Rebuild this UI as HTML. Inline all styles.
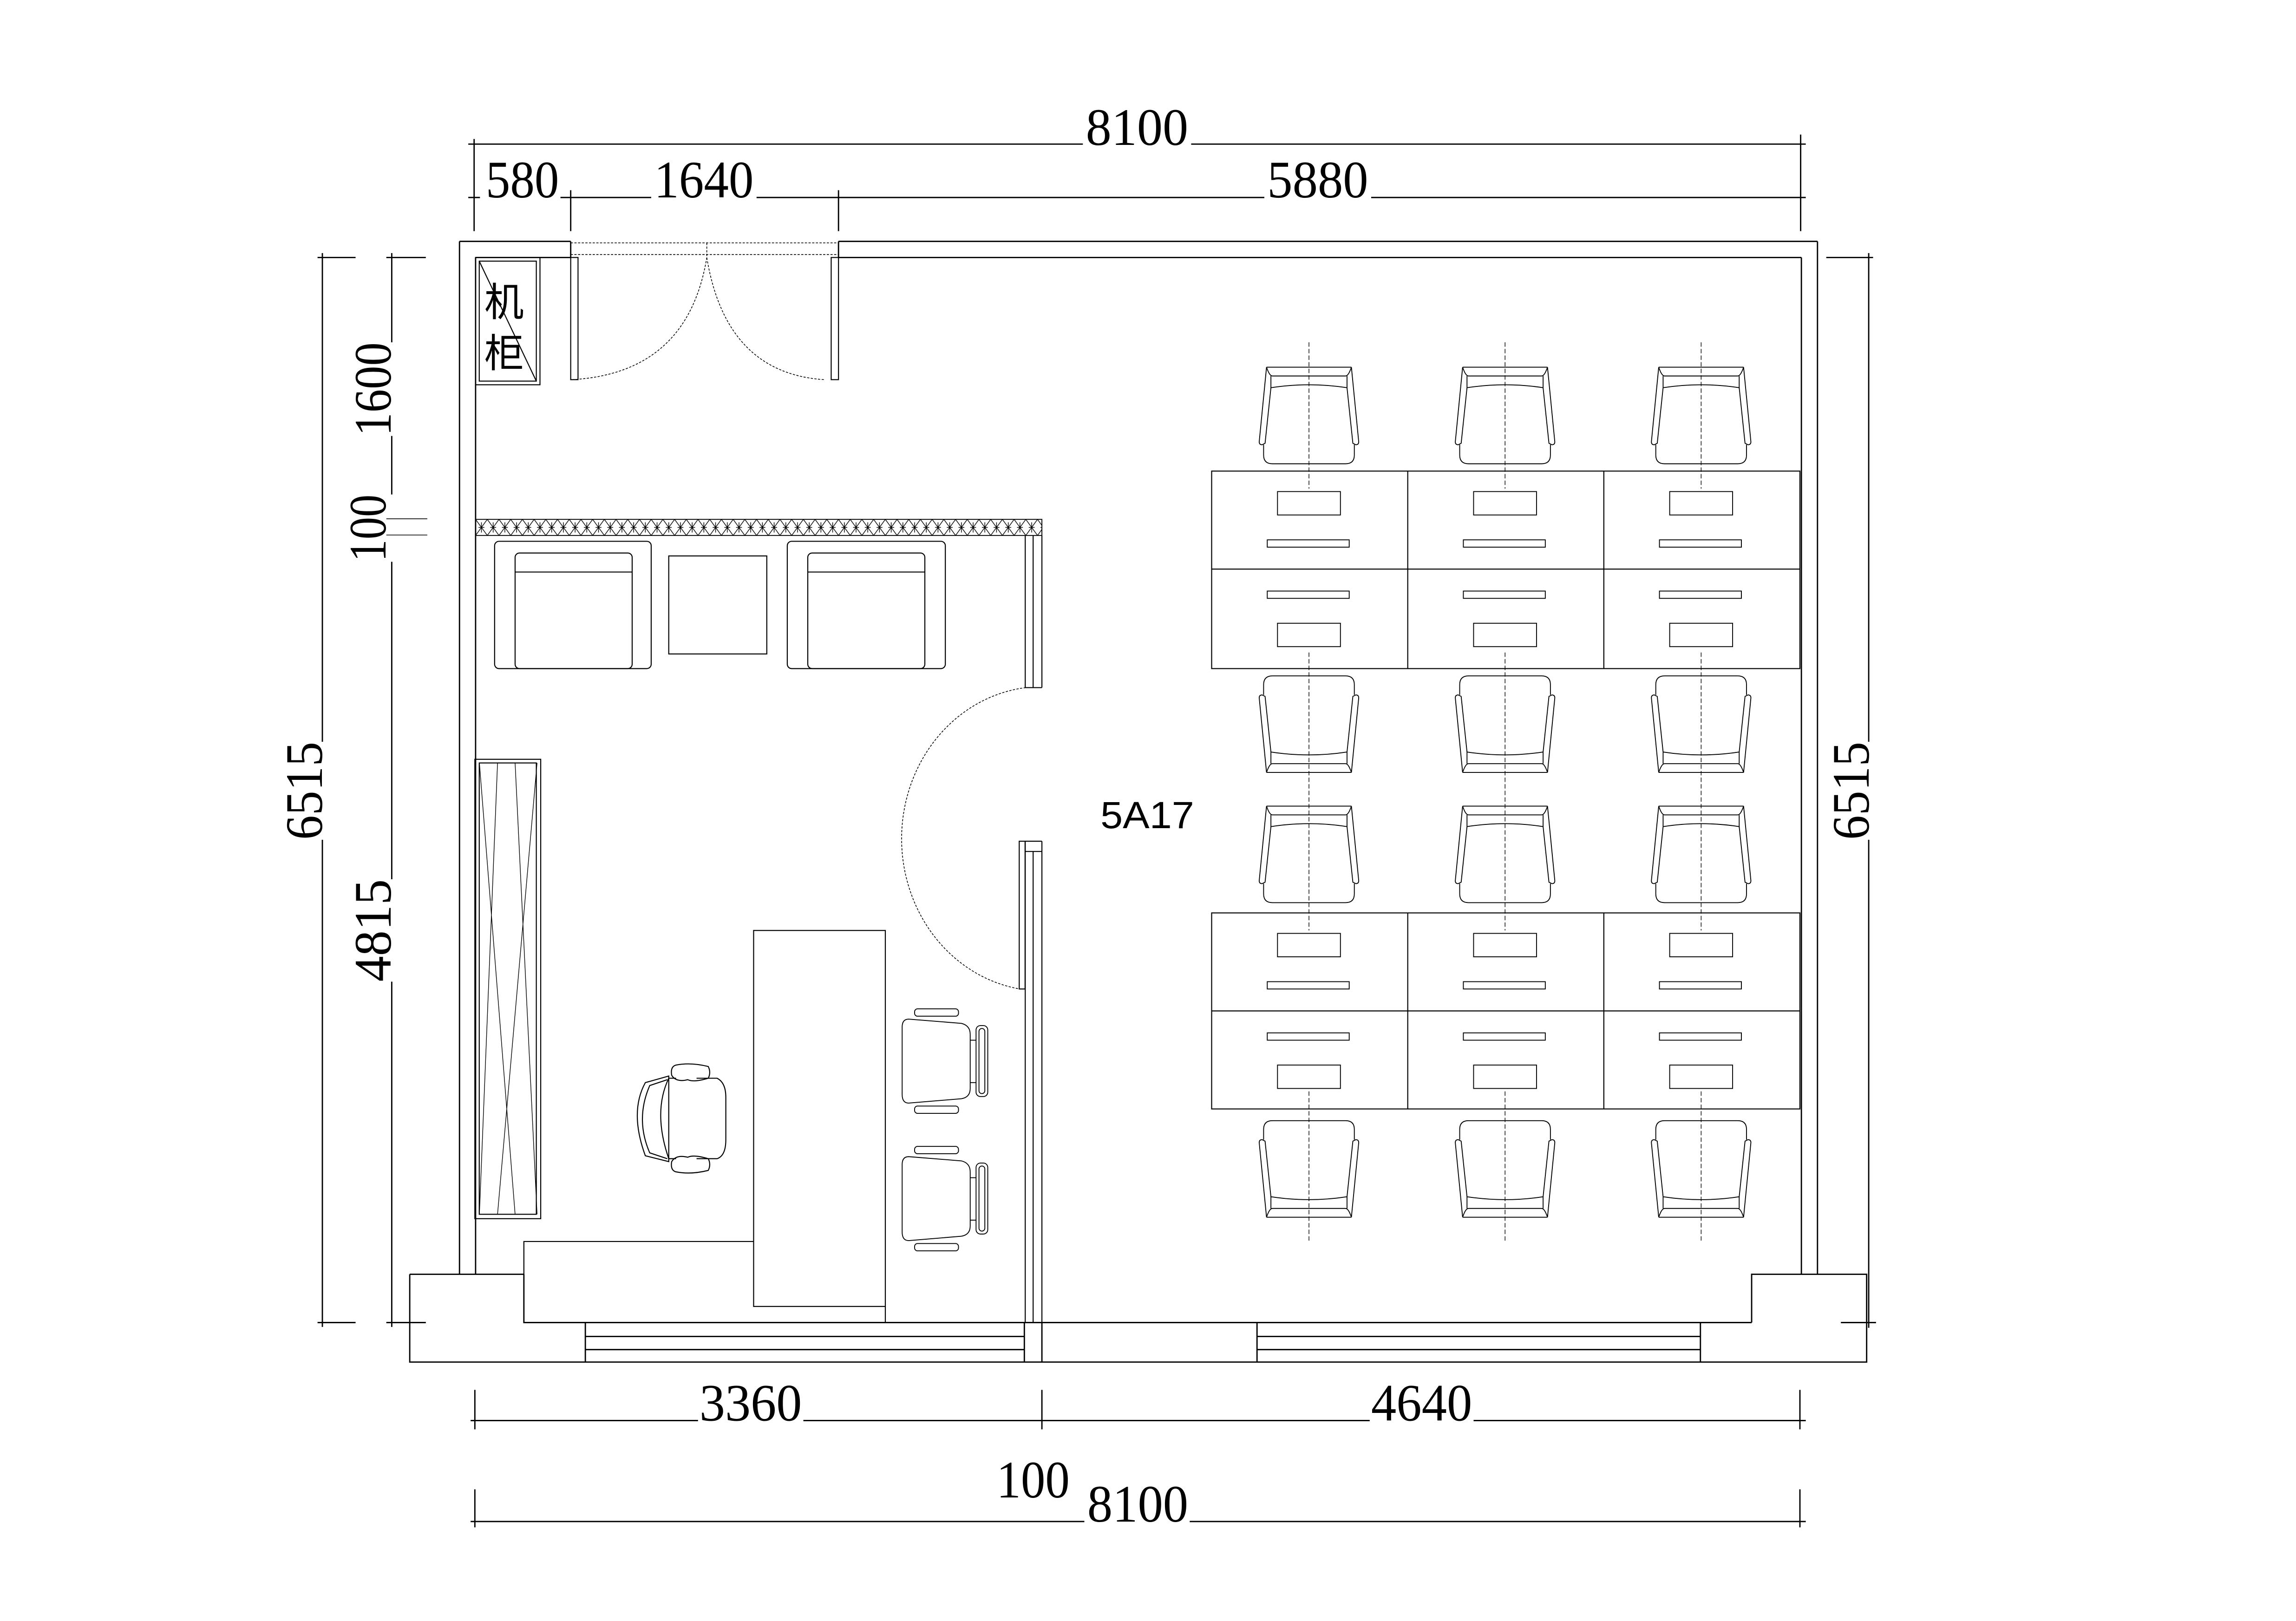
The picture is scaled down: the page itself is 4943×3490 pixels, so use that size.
<!DOCTYPE html>
<html><head><meta charset="utf-8"><style>
html,body{margin:0;padding:0;background:#fff;}
svg{display:block;}
text{font-family:"Liberation Serif","Noto Serif CJK SC",serif;fill:#000;}
text.sans{font-family:"Liberation Sans","Noto Sans CJK SC",sans-serif;}
</style></head><body>
<svg width="4943" height="3490" viewBox="0 0 1569 1108" preserveAspectRatio="none" xmlns="http://www.w3.org/2000/svg">
<defs>
<pattern id="hatch" width="8" height="11" patternUnits="userSpaceOnUse" x="325" y="355">
<path d="M0,0 L8,11 M8,0 L0,11 M4,2 V9 M2,5.5 H6" stroke="#000" stroke-width="0.45" fill="none"/>
</pattern>
<g id="chair" fill="none" stroke="#000" stroke-width="0.6">
<path d="M-29,0 H29 M-29,0 Q-27,6 -25,6 H25 Q27,6 29,0"/>
<path d="M-26,6 V14 Q0,10 26,14 V6"/>
<path d="M-29,0 L-34,51 Q-34,53 -32,53 L-30,52 L-26,14"/>
<path d="M29,0 L34,51 Q34,53 32,53 L30,52 L26,14"/>
<path d="M-31,53 V60 Q-31,66 -25,66 H25 Q31,66 31,60 V53"/>
</g>
<g id="vchair" fill="none" stroke="#000" stroke-width="0.6">
<rect x="625" y="689.6" width="30" height="5" rx="2"/>
<rect x="625" y="756" width="30" height="5" rx="2"/>
<path d="M621,696.6 L657,699.5 Q663,701 663,707 V744 Q663,750 657,751 L621,754 Q616.5,754 616.5,748 V702 Q616.5,696.6 621,696.6 Z"/>
<rect x="667" y="701" width="8" height="48.5" rx="3"/>
<rect x="669" y="703" width="4" height="44.5" rx="2"/>
<path d="M663,711 H667 M663,740 H667"/>
</g>
</defs>

<g fill="none" stroke="#000" stroke-width="0.9">
<path d="M320,98.5 H740 M814,98.5 H1234"/>
<path d="M324,95 V158 M1230.5,92 V158"/>
<path d="M320,135 H328 M383,135 H445 M517,135 H864 M937,135 H1234"/>
<path d="M390,130 V158 M573,130 V158"/>
<path d="M220.3,173 V507 M220.3,574 V907"/>
<path d="M217,176 H243 M217,904 H243"/>
<path d="M267.7,173 V234 M267.7,298 V338 M267.7,384 V601 M267.7,671 V907"/>
<path d="M264,176 H291 M264,904 H291" />
<path d="M264,354.6 H292 M264,365.7 H292" stroke-width="0.5"/>
<path d="M1277,173 V507 M1277,574 V907.6"/>
<path d="M1248,176 H1280 M1258,904 H1282"/>
<path d="M321.6,971 H477 M549,971 H936 M1007,971 H1234"/>
<path d="M324.5,950 V977 M712,950 V977 M1230,950 V977"/>
<path d="M321.6,1040 H741 M813,1040 H1234"/>
<path d="M324.5,1018 V1044 M1230,1018 V1044"/>

<path d="M314,165 H390 M573,165 H1242 M325,176 H390 M573,176 H1231"/>
<path d="M314,165 V871 M325,176 V871"/>
<path d="M1231,176 V871 M1242,165 V871"/>
<path d="M390,165 V176 M573,165 V176"/>
<path d="M280,871 H358 M280,871 V931 H1275.6 V871 H1197 V904 M358,871 V904 H1197"/>
<path d="M400,904 V931 M700,904 V931 M712,904 V931 M859,904 V931 M1162,904 V931"/>
<path d="M400,913.5 H700 M400,922.5 H700 M859,913.5 H1162 M859,922.5 H1162"/>
</g>
<g fill="none" stroke="#000" stroke-width="0.5" stroke-dasharray="1.5,1">
<path d="M390,166 H573 M390,174 H573 M483,166 V176"/>
<path d="M391,259.5 Q470,255 483,176 M563,259.5 Q496,255 483,176"/>
<path d="M701,470 A96,104 0 0 0 697,676"/>
</g>
<g fill="none" stroke="#000" stroke-width="0.7">
<rect x="390" y="176" width="5" height="83.5"/>
<rect x="568" y="176" width="5" height="83.5"/>
<rect x="325" y="176" width="44" height="87"/>
<rect x="327.5" y="178.5" width="39" height="82"/>
<path d="M327.5,178.5 L366.5,260.5"/>
</g>
<text class="sans" x="331" y="216" font-size="27">机</text>
<text class="sans" x="331" y="251" font-size="27">柜</text>

<rect x="325" y="355" width="387" height="11" fill="url(#hatch)" stroke="#000" stroke-width="0.6"/>
<g fill="none" stroke="#000" stroke-width="0.7">
<path d="M700.6,366 V470 M712,366 V470 M706,366 V470 M700.6,470 H712"/>
<path d="M700.6,575 V904 M712,575 V904 M706,582 V904 M700.6,575 H712 M700.6,582 H712"/>
<rect x="696.5" y="575" width="4" height="101"/>
<rect x="338" y="370" width="107" height="87" rx="3"/>
<rect x="352" y="378" width="80" height="79" rx="3"/>
<path d="M352,391 H432"/>
<rect x="457" y="380" width="67" height="67"/>
<rect x="538" y="370" width="108" height="87" rx="3"/>
<rect x="552" y="378" width="80" height="79" rx="3"/>
<path d="M552,391 H632"/>
<rect x="324.5" y="519" width="45" height="314"/>
<rect x="327.5" y="521.5" width="39" height="308.5"/>
<path d="M340,521.5 L327.6,830 M352,521.5 L367,830 M327.6,521.5 L352,830 M367,521.5 L340,830" stroke-width="0.45"/>
<rect x="515" y="636" width="90" height="257"/>
<path d="M358,904 V848.6 H515 M605,893 V904"/>
<path d="M462,728 Q472,726 484,729 Q486,733 484,737 Q474,740 470,738 Q462,740 459,735 Q458,729 462,728 Z"/>
<path d="M462,801 Q472,803 484,800 Q486,796 484,792 Q474,789 470,791 Q462,789 459,794 Q458,800 462,801 Z"/>
<path d="M457,737 H462 M476,737 H490 Q496,740 496,750 V779 Q496,790 490,792 H476 M457,792 H462"/>
<path d="M457,737 Q446,760 457,792"/>
<path d="M457,735.5 L441,740 Q430,760 441,790 L457,794 L457,735.5 Z"/>
<path d="M456,738 L444,742 Q434,765 444,788 L456,792"/>
</g>
<use href="#vchair"/>
<use href="#vchair" transform="translate(0,94)"/>

<g fill="none" stroke="#000" stroke-width="0.7">
<rect x="828" y="322" width="402" height="135"/>
<path d="M828,389 H1230 M962,322 V457 M1096,322 V457"/>
<rect x="828" y="624" width="402" height="134"/>
<path d="M828,691 H1230 M962,624 V758 M1096,624 V758"/>
</g>
<g fill="none" stroke="#000" stroke-width="0.6">
<rect x="873" y="336" width="43" height="16"/><rect x="866" y="369" width="56" height="5"/>
<rect x="866" y="404" width="56" height="5"/><rect x="873" y="426" width="43" height="16"/>
<rect x="1007" y="336" width="43" height="16"/><rect x="1000" y="369" width="56" height="5"/>
<rect x="1000" y="404" width="56" height="5"/><rect x="1007" y="426" width="43" height="16"/>
<rect x="1141" y="336" width="43" height="16"/><rect x="1134" y="369" width="56" height="5"/>
<rect x="1134" y="404" width="56" height="5"/><rect x="1141" y="426" width="43" height="16"/>
<rect x="873" y="638" width="43" height="16"/><rect x="866" y="671" width="56" height="5"/>
<rect x="866" y="706" width="56" height="5"/><rect x="873" y="728" width="43" height="16"/>
<rect x="1007" y="638" width="43" height="16"/><rect x="1000" y="671" width="56" height="5"/>
<rect x="1000" y="706" width="56" height="5"/><rect x="1007" y="728" width="43" height="16"/>
<rect x="1141" y="638" width="43" height="16"/><rect x="1134" y="671" width="56" height="5"/>
<rect x="1134" y="706" width="56" height="5"/><rect x="1141" y="728" width="43" height="16"/>
</g>
<g stroke="#000" stroke-width="0.45" stroke-dasharray="3,1.5" fill="none">
<path d="M894.5,234 V334 M894.5,446 V636 M894.5,746 V848"/>
<path d="M1028.5,234 V334 M1028.5,446 V636 M1028.5,746 V848"/>
<path d="M1162.5,234 V334 M1162.5,446 V636 M1162.5,746 V848"/>
</g>
<use href="#chair" transform="translate(894.5,251)"/>
<use href="#chair" transform="translate(1028.5,251)"/>
<use href="#chair" transform="translate(1162.5,251)"/>
<use href="#chair" transform="translate(894.5,528) scale(1,-1)"/>
<use href="#chair" transform="translate(1028.5,528) scale(1,-1)"/>
<use href="#chair" transform="translate(1162.5,528) scale(1,-1)"/>
<use href="#chair" transform="translate(894.5,551)"/>
<use href="#chair" transform="translate(1028.5,551)"/>
<use href="#chair" transform="translate(1162.5,551)"/>
<use href="#chair" transform="translate(894.5,832) scale(1,-1)"/>
<use href="#chair" transform="translate(1028.5,832) scale(1,-1)"/>
<use href="#chair" transform="translate(1162.5,832) scale(1,-1)"/>

<text class="sans" x="752" y="566" font-size="26" textLength="64" lengthAdjust="spacingAndGlyphs">5A17</text>
<g font-size="36">
<text x="742" y="99" textLength="70" lengthAdjust="spacingAndGlyphs">8100</text>
<text x="332" y="135" textLength="50" lengthAdjust="spacingAndGlyphs">580</text>
<text x="447" y="135" textLength="68" lengthAdjust="spacingAndGlyphs">1640</text>
<text x="866" y="135" textLength="69" lengthAdjust="spacingAndGlyphs">5880</text>
<text x="478" y="971" textLength="70" lengthAdjust="spacingAndGlyphs">3360</text>
<text x="937" y="971" textLength="69" lengthAdjust="spacingAndGlyphs">4640</text>
<text x="681" y="1023.5" textLength="50" lengthAdjust="spacingAndGlyphs">100</text>
<text x="743" y="1040" textLength="69" lengthAdjust="spacingAndGlyphs">8100</text>
<text transform="translate(220,574) rotate(-90)" textLength="67" lengthAdjust="spacingAndGlyphs">6515</text>
<text transform="translate(267,298) rotate(-90)" textLength="64" lengthAdjust="spacingAndGlyphs">1600</text>
<text transform="translate(263.5,384) rotate(-90)" textLength="46" lengthAdjust="spacingAndGlyphs">100</text>
<text transform="translate(267,671) rotate(-90)" textLength="70" lengthAdjust="spacingAndGlyphs">4815</text>
<text transform="translate(1277,574) rotate(-90)" textLength="67" lengthAdjust="spacingAndGlyphs">6515</text>
</g>
</svg>
</body></html>
